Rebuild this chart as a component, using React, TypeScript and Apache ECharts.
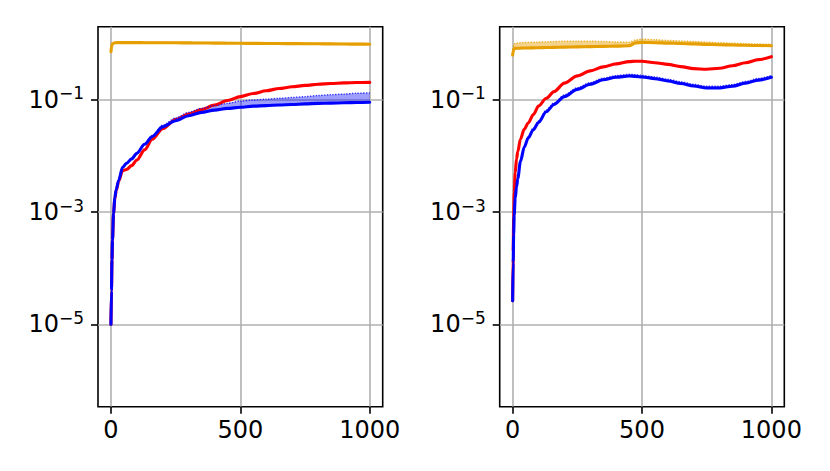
import React, { useEffect, useRef } from 'react';
import * as echarts from 'echarts';

// ---------- data (y values given as log10 exponents) ----------
const xTicks = [0, 500, 1000];
const yTickExps = [-5, -3, -1];
const yMinExp = -6.469;
const yMaxExp = 0.307;

const leftX = [0, 2, 4, 6, 10, 15, 20, 30, 45, 60, 80, 100, 130, 160, 200, 250, 300, 350, 400, 450, 500, 550, 600, 650, 700, 750, 800, 850, 900, 950, 1000];
const leftOrange = [-0.14, -0.06, -0.02, 0.0, 0.012, 0.02, 0.022, 0.023, 0.023, 0.023, 0.023, 0.023, 0.022, 0.022, 0.021, 0.02, 0.018, 0.017, 0.015, 0.013, 0.011, 0.01, 0.008, 0.007, 0.005, 0.004, 0.002, 0.0, -0.002, -0.004, -0.006];
const leftOrangeUpper = [-0.13, -0.05, -0.008, 0.012, 0.024, 0.032, 0.034, 0.035, 0.035, 0.035, 0.035, 0.035, 0.034, 0.034, 0.033, 0.032, 0.03, 0.029, 0.027, 0.025, 0.023, 0.022, 0.02, 0.019, 0.017, 0.016, 0.014, 0.012, 0.01, 0.008, 0.006];
const leftRed = [-5, -4.4, -3.85, -3.5, -3.02, -2.76, -2.62, -2.45, -2.26, -2.24, -2.17, -2.07, -1.89, -1.7, -1.51, -1.35, -1.25, -1.17, -1.09, -1.01, -0.94, -0.885, -0.835, -0.795, -0.765, -0.74, -0.72, -0.705, -0.695, -0.688, -0.685];
const leftBlue = [-5, -4.4, -3.85, -3.5, -3.02, -2.75, -2.6, -2.43, -2.2, -2.13, -2.05, -1.95, -1.79, -1.65, -1.48, -1.37, -1.28, -1.22, -1.18, -1.15, -1.13, -1.11, -1.1, -1.09, -1.08, -1.07, -1.06, -1.055, -1.05, -1.045, -1.04];
const leftBlueUpper = [-5, -4.4, -3.85, -3.5, -3.02, -2.75, -2.6, -2.43, -2.2, -2.125, -2.04, -1.94, -1.78, -1.63, -1.45, -1.32, -1.22, -1.15, -1.1, -1.06, -1.02, -1.0, -0.985, -0.97, -0.955, -0.94, -0.92, -0.905, -0.895, -0.88, -0.87];

const rightX = [0, 2, 4, 6, 10, 15, 20, 30, 45, 60, 80, 100, 130, 160, 200, 250, 300, 350, 400, 450, 475, 500, 550, 600, 650, 700, 750, 800, 850, 900, 950, 1000];
const rightOrange = [-0.198, -0.14, -0.1, -0.085, -0.08, -0.078, -0.077, -0.075, -0.073, -0.072, -0.07, -0.068, -0.065, -0.062, -0.058, -0.053, -0.049, -0.044, -0.04, -0.033, 0.018, 0.027, 0.022, 0.015, 0.008, 0.0, -0.008, -0.015, -0.02, -0.025, -0.029, -0.032];
const rightOrangeUpper = [-0.15, -0.05, -0.01, 0.0, 0.01, 0.015, 0.018, 0.022, 0.025, 0.028, 0.03, 0.033, 0.037, 0.042, 0.048, 0.05, 0.048, 0.043, 0.035, 0.03, 0.07, 0.085, 0.075, 0.062, 0.052, 0.042, 0.032, 0.022, 0.012, 0.005, -0.002, -0.008];
const rightRed = [-4.58, -3.7, -3.1, -2.65, -2.3, -2.05, -1.92, -1.7, -1.52, -1.41, -1.26, -1.11, -0.97, -0.85, -0.7, -0.57, -0.48, -0.41, -0.355, -0.315, -0.308, -0.31, -0.335, -0.365, -0.405, -0.44, -0.452, -0.435, -0.39, -0.335, -0.28, -0.228];
const rightBlue = [-4.58, -3.9, -3.4, -3.05, -2.75, -2.55, -2.4, -2.1, -1.84, -1.68, -1.53, -1.4, -1.21, -1.08, -0.94, -0.81, -0.72, -0.64, -0.595, -0.572, -0.578, -0.59, -0.62, -0.66, -0.705, -0.75, -0.785, -0.785, -0.755, -0.7, -0.645, -0.595];
const rightBlueUpper = [-4.58, -3.9, -3.4, -3.05, -2.74, -2.54, -2.385, -2.075, -1.815, -1.655, -1.5, -1.37, -1.18, -1.05, -0.91, -0.78, -0.69, -0.61, -0.565, -0.542, -0.548, -0.56, -0.59, -0.63, -0.675, -0.72, -0.755, -0.755, -0.725, -0.67, -0.615, -0.565];

// ---------- styling ----------
const ORANGE = '#e69f00';
const RED = '#ff0000';
const BLUE = '#0000ff';
const FONT = 'DejaVu Sans';

const pow10 = (e: number) => Math.pow(10, e);
const pairs = (xs: number[], exps: number[]) => xs.map((x, i) => [x, pow10(exps[i])]);

function lineSeries(g: number, xs: number[], exps: number[], color: string, width: number, dotted = false) {
  return {
    type: 'line',
    xAxisIndex: g,
    yAxisIndex: g,
    data: pairs(xs, exps),
    showSymbol: false,
    symbol: 'none',
    smooth: 0.3,
    smoothMonotone: 'x',
    silent: true,
    clip: true,
    lineStyle: dotted
      ? { color, width, type: 'dotted', opacity: 0.75 }
      : { color, width, cap: 'round', join: 'round' },
  };
}

function bandSeries(g: number, xs: number[], low: number[], up: number[], fill: string) {
  const rows = xs.map((x, i) => [x, pow10(low[i]), pow10(up[i])]);
  return {
    type: 'custom',
    xAxisIndex: g,
    yAxisIndex: g,
    clip: true,
    silent: true,
    data: rows,
    encode: { x: 0, y: [1, 2] },
    renderItem: (params: any, api: any) => {
      if (params.dataIndex !== 0) return null;
      const top = rows.map((r) => api.coord([r[0], r[2]]));
      const bot = rows.map((r) => api.coord([r[0], r[1]])).reverse();
      return {
        type: 'polygon',
        shape: { points: top.concat(bot) },
        style: { fill, stroke: 'none' },
      };
    },
  };
}

function xAxis(g: number) {
  return {
    gridIndex: g,
    type: 'value',
    min: -50,
    max: 1050,
    axisLine: { show: false, onZero: false },
    axisTick: { show: true, customValues: xTicks, length: 7, lineStyle: { color: '#000', width: 1.6 } },
    axisLabel: {
      customValues: xTicks,
      formatter: (v: number) => String(Math.round(v)),
      fontSize: 24,
      fontFamily: FONT,
      color: '#000',
      margin: 11,
      lineHeight: 24,
    },
    splitLine: { show: true, lineStyle: { color: '#b0b0b0', width: 1.6 } },
  };
}

function yAxis(g: number) {
  const vals = yTickExps.map(pow10);
  return {
    gridIndex: g,
    type: 'log',
    logBase: 10,
    min: pow10(yMinExp),
    max: pow10(yMaxExp),
    axisLine: { show: false, onZero: false },
    axisTick: { show: true, customValues: vals, length: 7, lineStyle: { color: '#000', width: 1.6 } },
    axisLabel: {
      customValues: vals,
      margin: 14,
      formatter: (v: number) => {
        const e = Math.round(Math.log10(v));
        return '{b|10}{s|' + (e < 0 ? '\u2212' : '') + Math.abs(e) + '}';
      },
      rich: {
        b: { fontSize: 24, fontFamily: FONT, color: '#000', lineHeight: 30 },
        s: { fontSize: 17, fontFamily: FONT, color: '#000', lineHeight: 17, verticalAlign: 'top' },
      },
    },
    splitLine: { show: true, lineStyle: { color: '#b0b0b0', width: 1.6 } },
  };
}

function panelSeries(g: number, xs: number[], or: number[], orUp: number[], red: number[], blue: number[], blueUp: number[]) {
  return [
    bandSeries(g, xs, or, orUp, 'rgba(230,159,0,0.45)'),
    lineSeries(g, xs, orUp, ORANGE, 1.4, true),
    lineSeries(g, xs, or, ORANGE, 3.1),
    lineSeries(g, xs, red, RED, 3.1),
    bandSeries(g, xs, blue, blueUp, 'rgba(0,0,255,0.38)'),
    lineSeries(g, xs, blueUp, BLUE, 1.4, true),
    lineSeries(g, xs, blue, BLUE, 3.1),
  ];
}

export default function App() {
  const ref = useRef<HTMLDivElement>(null);
  useEffect(() => {
    if (!ref.current) return;
    const chart = echarts.init(ref.current, undefined, { renderer: 'svg' });
    const gridBase = { show: true, borderColor: '#000', borderWidth: 1.6, backgroundColor: 'transparent', outerBoundsMode: 'none' };
    chart.setOption({
      animation: false,
      backgroundColor: '#ffffff',
      grid: [
        { ...gridBase, left: 98, top: 26.7, width: 284.7, height: 380 },
        { ...gridBase, left: 499.7, top: 26.7, width: 284.6, height: 380 },
      ],
      xAxis: [xAxis(0), xAxis(1)],
      yAxis: [yAxis(0), yAxis(1)],
      series: [
        ...panelSeries(0, leftX, leftOrange, leftOrangeUpper, leftRed, leftBlue, leftBlueUpper),
        ...panelSeries(1, rightX, rightOrange, rightOrangeUpper, rightRed, rightBlue, rightBlueUpper),
      ],
    });
    return () => chart.dispose();
  }, []);
  return (
    <div
      ref={ref}
      style={{ position: 'absolute', left: 0, top: 0, width: 830, height: 471, background: '#fff' }}
    />
  );
}
